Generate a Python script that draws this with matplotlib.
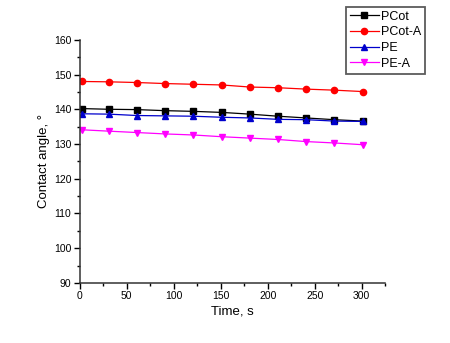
import matplotlib.pyplot as plt
from matplotlib.ticker import MultipleLocator

plt.rcParams['font.family'] = ['Liberation Sans', 'DejaVu Sans']

# contact angle vs time for the four samples
time_s = [2, 31, 61, 91, 121, 151, 181, 211, 241, 271, 301]
pcot = [140.2, 140.0, 139.9, 139.6, 139.4, 139.1, 138.6, 138.0, 137.5, 137.0, 136.6]
pcot_a = [148.0, 147.9, 147.7, 147.4, 147.2, 147.0, 146.4, 146.2, 145.8, 145.5, 145.1]
pe = [138.7, 138.6, 138.2, 138.1, 138.0, 137.7, 137.5, 137.1, 137.0, 136.6, 136.5]
pe_a = [134.1, 133.7, 133.3, 132.9, 132.6, 132.1, 131.7, 131.3, 130.7, 130.3, 129.8]

series = [
    ("PCot", pcot, "black", "s"),
    ("PCot-A", pcot_a, "red", "o"),
    ("PE", pe, "#0000cc", "^"),
    ("PE-A", pe_a, "magenta", "v"),
]

fig = plt.figure(figsize=(4.5, 3.43), dpi=100)
ax = fig.add_axes([0.177, 0.175, 0.679, 0.709])

for name, vals, col, mk in series:
    ax.plot(time_s, vals, color=col, marker=mk, markersize=4.5, linewidth=0.9, label=name)

ax.set_xlim(0, 325)
ax.set_ylim(90, 160)
ax.xaxis.set_major_locator(MultipleLocator(50))
ax.xaxis.set_minor_locator(MultipleLocator(25))
ax.yaxis.set_major_locator(MultipleLocator(10))
ax.yaxis.set_minor_locator(MultipleLocator(5))
ax.tick_params(which='major', direction='out', length=4, width=1, labelsize=7.5, pad=2)
ax.tick_params(which='minor', direction='out', length=2, width=1)

for side in ('top', 'right'):
    ax.spines[side].set_visible(False)
for side in ('left', 'bottom'):
    ax.spines[side].set_linewidth(1.1)
    ax.spines[side].set_color('#333333')

ax.set_xlabel("Time, s", fontsize=9.5, labelpad=3)
ax.set_ylabel("Contact angle, °", fontsize=9.5, labelpad=3)

leg = fig.legend(loc='upper right', bbox_to_anchor=(0.945, 0.98), fontsize=9,
                 frameon=True, fancybox=False, handlelength=2.3, handletextpad=0.2,
                 labelspacing=0.3, borderpad=0.3, borderaxespad=0)
leg.get_frame().set_edgecolor('#333333')
leg.get_frame().set_linewidth(1.3)

fig.savefig("out.png", dpi=100)
